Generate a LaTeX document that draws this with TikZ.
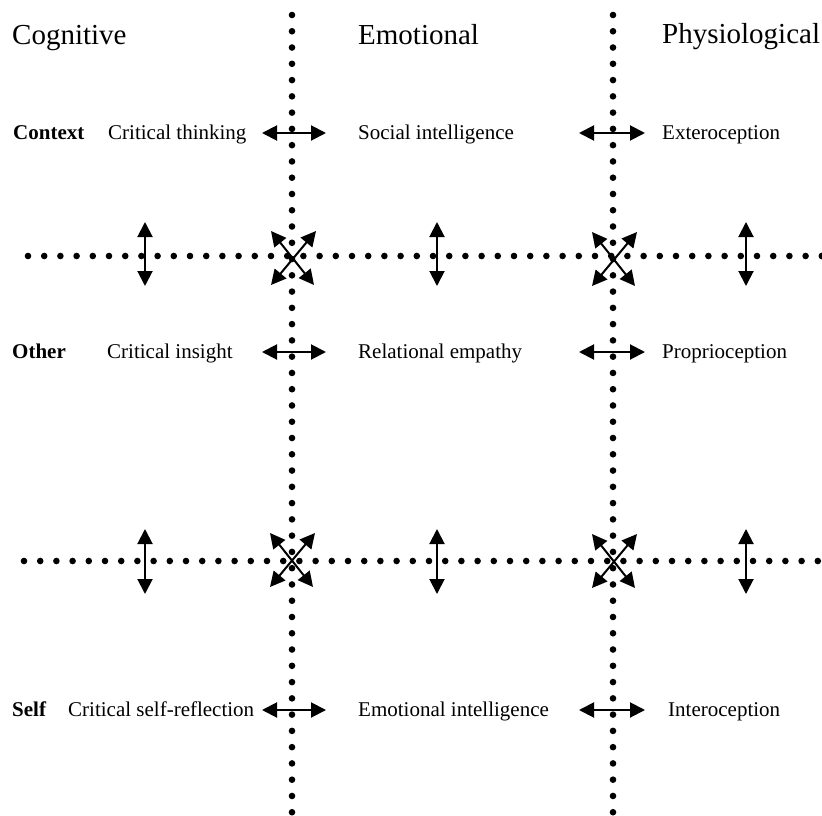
\documentclass[tikz,border=0pt]{standalone}
\usepackage{fontspec}
\setmainfont{Liberation Serif}
\usetikzlibrary{arrows.meta}
\begin{document}
\begin{tikzpicture}[x=1pt,y=-1pt,
  dotmark/.style={fill=black},
  dblarrow/.style={line width=2pt,{Triangle[length=15pt,width=15pt]}-{Triangle[length=15pt,width=15pt]}},
  head/.style={anchor=base west,inner sep=0pt,font=\fontsize{29}{33}\selectfont},
  lbl/.style={anchor=base west,inner sep=0pt,font=\fontsize{21}{24}\selectfont},
  rowlbl/.style={lbl,font=\fontsize{21}{24}\selectfont\bfseries}]
\useasboundingbox (0,0) rectangle (822,816);
% dotted grid lines
\foreach \x in {292,613}{
  \foreach \i in {0,...,49}{\fill[dotmark] (\x,15+16.27*\i) circle (3.3);}
}
\foreach \i in {0,...,49}{\pgfmathsetmacro\xx{28+16.2*\i}\ifdim\xx pt<824pt\fill[dotmark] (\xx,256) circle (3.3);\fi}
\foreach \i in {0,...,49}{\pgfmathsetmacro\xx{24+16.2*\i}\ifdim\xx pt<824pt\fill[dotmark] (\xx,561) circle (3.3);\fi}
% headers
\node[head] (hcog) at (12,45) {Cognitive};
\node[head] (hemo) at (358,45) {Emotional};
\node[head] (hphy) at (662,44) {Physiological};
% row 1
\node[rowlbl] (rcontext) at (13,139) {Context};
\node[lbl] (ct) at (108,139) {Critical thinking};
\node[lbl] (si) at (358,139) {Social intelligence};
\node[lbl] (ex) at (662,139) {Exteroception};
% row 2
\node[rowlbl] (rother) at (12,358) {Other};
\node[lbl] (ci) at (107,358) {Critical insight};
\node[lbl] (re) at (358,358) {Relational empathy};
\node[lbl] (pr) at (662,358) {Proprioception};
% row 3
\node[rowlbl] (rself) at (12,716) {Self};
\node[lbl] (csr) at (68,716) {Critical self-reflection};
\node[lbl] (ei) at (358,716) {Emotional intelligence};
\node[lbl] (io) at (668,716) {Interoception};
% horizontal arrows
\foreach \y/\n in {133/a,352/b,710/c}{
  \coordinate (hl\n) at (262,\y); \coordinate (hr\n) at (326,\y);
  \coordinate (hL\n) at (579,\y); \coordinate (hR\n) at (645,\y);
  \draw[dblarrow] (hl\n) -- (hr\n);
  \draw[dblarrow] (hL\n) -- (hR\n);
}
% vertical arrows
\foreach \x/\n in {145/a,437/b,746/c}{
  \coordinate (vt\n) at (\x,222); \coordinate (vb\n) at (\x,286);
  \coordinate (Vt\n) at (\x,529); \coordinate (Vb\n) at (\x,594);
  \draw[dblarrow] (vt\n) -- (vb\n);
  \draw[dblarrow] (Vt\n) -- (Vb\n);
}
% diagonal crossing arrows
\foreach \cx/\cy/\n in {292/258/a,613/259/b,291/560/c,613/561/d}{
  \coordinate (dtl\n) at (\cx-21,\cy-27); \coordinate (dbr\n) at (\cx+22,\cy+27);
  \coordinate (dtr\n) at (\cx+24,\cy-27); \coordinate (dbl\n) at (\cx-21,\cy+27);
  \draw[dblarrow] (dtl\n) -- (dbr\n);
  \draw[dblarrow] (dtr\n) -- (dbl\n);
}
\end{tikzpicture}
\end{document}
